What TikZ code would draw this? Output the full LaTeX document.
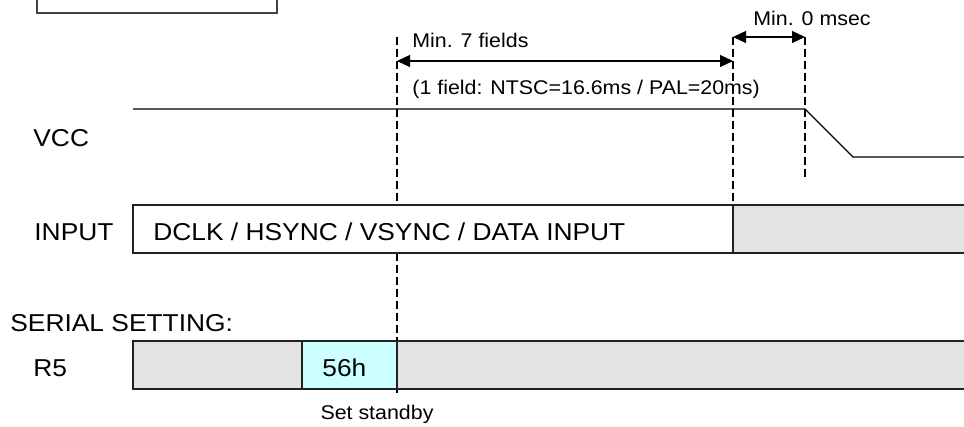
\documentclass[tikz,border=0pt]{standalone}
\usepackage{fontspec}
\setmainfont[FakeStretch=1.08]{Liberation Sans}
\usetikzlibrary{arrows.meta}

\definecolor{busgray}{HTML}{E3E3E3}
\definecolor{regcyan}{HTML}{CCFFFF}
\definecolor{edge}{HTML}{222222}

\tikzset{
  lbl/.style={anchor=base west, inner sep=0pt, font=\fontsize{12.2}{14}\selectfont},
  note/.style={anchor=base west, inner sep=0pt, font=\fontsize{9.9}{12}\selectfont},
  seg/.style={draw=edge, line width=0.8pt},
  marker/.style={draw=black, line width=0.7pt, dash pattern=on 4pt off 2pt},
  dim/.style={draw=black, line width=0.55pt,
    {Triangle[length=6.5pt,width=6pt]}-{Triangle[length=6.5pt,width=6pt]}},
}

\begin{document}
\begin{tikzpicture}[x=0.5pt,y=-0.5pt]
\useasboundingbox (0,0) rectangle (964,427);
\clip (0,0) rectangle (964,427);

% box cut off at the top
\draw[seg, draw=edge!85] (37,-10) rectangle (277,13);

% timing markers
\coordinate (m1a) at (397,37);  \coordinate (m1b) at (397,396);
\coordinate (m2a) at (733,37);  \coordinate (m2b) at (733,205);
\coordinate (m3a) at (805,37);  \coordinate (m3b) at (805,180);
\draw[marker] (m1a) -- (m1b);
\draw[marker] (m2a) -- (m2b);
\draw[marker] (m3a) -- (m3b);

% VCC
\node[lbl] (vcc) at (33,147) {VCC};
\coordinate (von) at (133,109);
\coordinate (voff) at (805,109);
\coordinate (vlow) at (853,157);
\coordinate (vend) at (975,157);
\draw[line width=0.65pt] (von) -- (voff) -- (vlow) -- (vend);

% INPUT
\node[lbl] (input) at (34,241) {INPUT};
\filldraw[seg, fill=white] (133,205) rectangle (733,253);
\filldraw[seg, fill=busgray] (733,205) rectangle (975,253);
\node[lbl] (bus) at (153,241) {DCLK / HSYNC / VSYNC / DATA INPUT};

% serial register
\node[lbl] (serial) at (10,332) {SERIAL SETTING:};
\node[lbl] (r5) at (33,377) {R5};
\filldraw[seg, fill=busgray] (133,341) rectangle (302,389);
\filldraw[seg, fill=regcyan] (302,341) rectangle (397,389);
\filldraw[seg, fill=busgray] (397,341) rectangle (975,389);
\node[lbl] (val) at (322,377) {56h};

% dimensions
\coordinate (d1a) at (397,61); \coordinate (d1b) at (733,61);
\coordinate (d2a) at (733,37); \coordinate (d2b) at (805,37);
\draw[dim] (d1a) -- (d1b);
\draw[dim] (d2a) -- (d2b);
\node[note] (min7) at (412,48) {Min. 7 fields};
\node[note] (field) at (412,95) {(1 field: NTSC=16.6ms / PAL=20ms)};
\node[note] (min0) at (753,26) {Min. 0 msec};
\node[note, anchor=base] (stby) at (377,419) {Set standby};
\end{tikzpicture}
\end{document}
